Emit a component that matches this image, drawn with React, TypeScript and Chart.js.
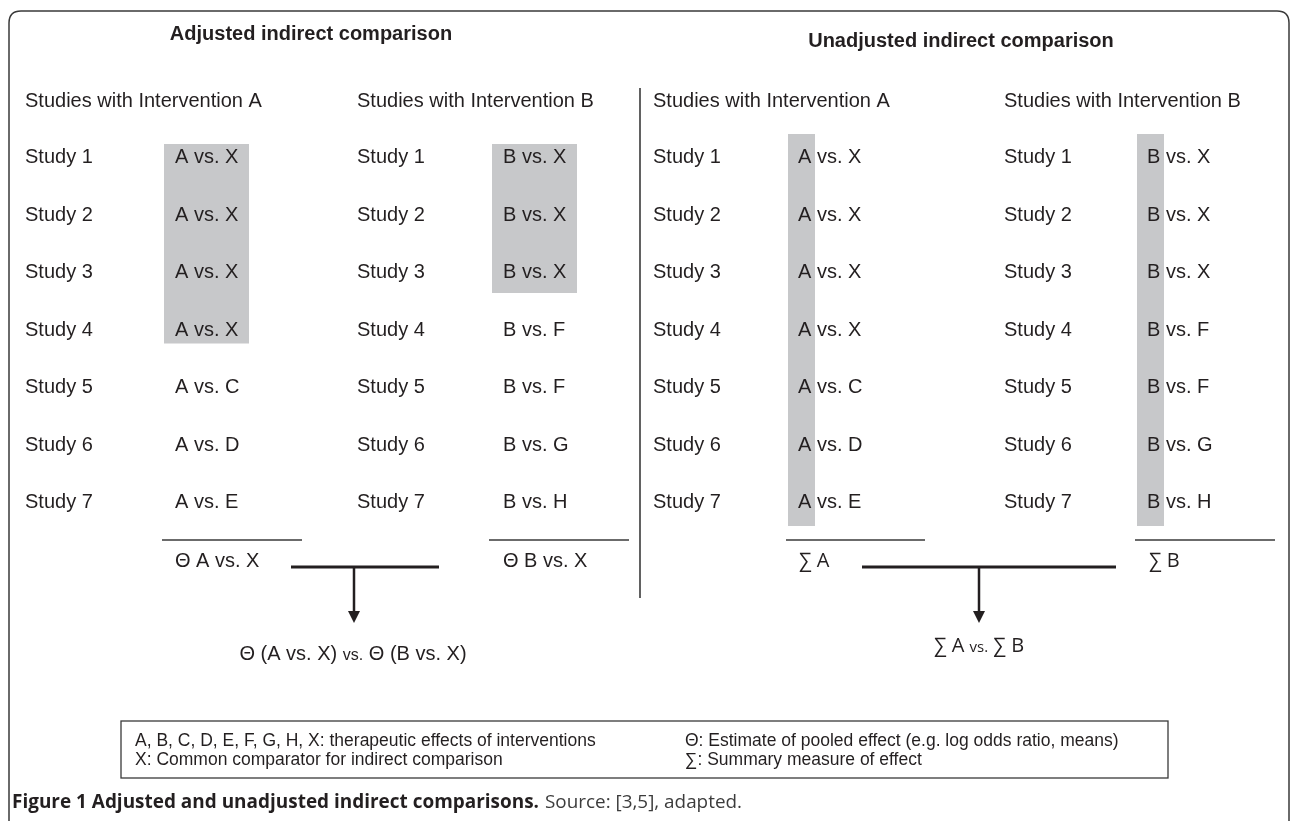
import React, { useEffect, useRef } from "react";
import { Chart, registerables } from "chart.js";

Chart.register(...registerables);

// ---------- content ----------
const panelTitles = ["Adjusted indirect comparison", "Unadjusted indirect comparison"];
const columnHeaders = ["Studies with Intervention A", "Studies with Intervention B"];
const studies = ["Study 1", "Study 2", "Study 3", "Study 4", "Study 5", "Study 6", "Study 7"];
const comparisonsA = ["A vs. X", "A vs. X", "A vs. X", "A vs. X", "A vs. C", "A vs. D", "A vs. E"];
const comparisonsB = ["B vs. X", "B vs. X", "B vs. X", "B vs. F", "B vs. F", "B vs. G", "B vs. H"];
const commonComparator = "X";
const pooledLabels = ["\u0398 A vs. X", "\u0398 B vs. X"];
const summaryLabels = ["\u2211 A", "\u2211 B"];
const adjustedResult = ["\u0398 (A vs. X)", "vs.", "\u0398 (B vs. X)"];
const unadjustedResult = ["\u2211 A", "vs.", "\u2211 B"];
const legendLeft = [
  "A, B, C, D, E, F, G, H, X: therapeutic effects of interventions",
  "X: Common comparator for indirect comparison",
];
const legendRight = [
  "\u0398: Estimate of pooled effect (e.g. log odds ratio, means)",
  "\u2211: Summary measure of effect",
];
const captionBold = "Figure 1 Adjusted and unadjusted indirect comparisons.";
const captionSource = "Source: [3,5], adapted.";

// ---------- layout (scale units) ----------
const W = 1292;
const H = 821;
const ROW0 = 163;
const ROW_STEP = 57.5;
const TEXT = "#231f20";
const LINE = "#3a3a3a";
const SHADE = "#c7c8ca";
const SANS = '"Liberation Sans", Arial, Helvetica, sans-serif';
const MYRIAD = '"Open Sans", "Noto Sans", "DejaVu Sans", sans-serif';

const diagramPlugin = {
  id: "diagram",
  afterDraw(chart: any) {
    const ctx: CanvasRenderingContext2D = chart.ctx;
    const sx = chart.scales.x;
    const sy = chart.scales.y;
    const X = (v: number) => sx.getPixelForValue(v);
    const Y = (v: number) => sy.getPixelForValue(v);
    const rowY = (i: number) => ROW0 + ROW_STEP * i;

    const text = (
      s: string,
      x: number,
      y: number,
      font: string,
      align: CanvasTextAlign = "left",
      color = TEXT,
      maxWidth?: number
    ) => {
      ctx.font = font;
      ctx.fillStyle = color;
      ctx.textAlign = align;
      ctx.textBaseline = "alphabetic";
      if (maxWidth) ctx.fillText(s, X(x), Y(y), maxWidth);
      else ctx.fillText(s, X(x), Y(y));
    };
    const line = (x1: number, y1: number, x2: number, y2: number, w: number, color = LINE) => {
      ctx.beginPath();
      ctx.strokeStyle = color;
      ctx.lineWidth = w;
      ctx.moveTo(X(x1), Y(y1));
      ctx.lineTo(X(x2), Y(y2));
      ctx.stroke();
    };
    const rect = (x1: number, y1: number, x2: number, y2: number, color: string) => {
      ctx.fillStyle = color;
      ctx.fillRect(X(x1), Y(y1), X(x2) - X(x1), Y(y2) - Y(y1));
    };

    ctx.save();
    // background
    rect(0, 0, W, H, "#ffffff");

    // outer rounded frame
    {
      const l = X(9), t = Y(11), r = X(1289), b = Y(845), rad = 12;
      ctx.beginPath();
      ctx.moveTo(l + rad, t);
      ctx.lineTo(r - rad, t);
      ctx.quadraticCurveTo(r, t, r, t + rad);
      ctx.lineTo(r, b - rad);
      ctx.quadraticCurveTo(r, b, r - rad, b);
      ctx.lineTo(l + rad, b);
      ctx.quadraticCurveTo(l, b, l, b - rad);
      ctx.lineTo(l, t + rad);
      ctx.quadraticCurveTo(l, t, l + rad, t);
      ctx.strokeStyle = LINE;
      ctx.lineWidth = 1.5;
      ctx.stroke();
    }

    // titles
    text(panelTitles[0], 311, 40, `bold 20px ${SANS}`, "center");
    text(panelTitles[1], 961, 47, `bold 20px ${SANS}`, "center");

    // divider
    line(640, 88, 640, 598, 1.6);

    // ----- adjusted panel -----
    const adjCols = [
      { studyX: 25, compX: 175, shade: [164, 249], padBottom: 8, comps: comparisonsA },
      { studyX: 357, compX: 503, shade: [492, 577], padBottom: 15, comps: comparisonsB },
    ];
    adjCols.forEach((c, ci) => {
      const hl = c.comps
        .map((s, i) => (s.trim().endsWith(commonComparator) ? i : -1))
        .filter((i) => i >= 0);
      if (hl.length) {
        rect(c.shade[0], rowY(hl[0]) - 19, c.shade[1], rowY(hl[hl.length - 1]) + c.padBottom, SHADE);
      }
      text(columnHeaders[ci], c.studyX, 107, `20px ${SANS}`);
      studies.forEach((s, i) => {
        text(s, c.studyX, rowY(i), `20px ${SANS}`);
        text(c.comps[i], c.compX, rowY(i), `20px ${SANS}`);
      });
    });
    line(162, 540, 302, 540, 1.3);
    line(489, 540, 629, 540, 1.3);
    text(pooledLabels[0], 175, 567, `20px ${SANS}`);
    text(pooledLabels[1], 503, 567, `20px ${SANS}`);
    line(291, 567, 439, 567, 3, "#231f20");
    line(354, 567, 354, 613, 2.5, "#231f20");
    {
      ctx.beginPath();
      ctx.fillStyle = "#231f20";
      ctx.moveTo(X(348), Y(611));
      ctx.lineTo(X(360), Y(611));
      ctx.lineTo(X(354), Y(623));
      ctx.closePath();
      ctx.fill();
    }
    // composite result
    const composite = (parts: string[], cx: number, y: number, big: string, small: string) => {
      const fonts = [big, small, big];
      const sep = " ";
      ctx.font = big;
      const sp = ctx.measureText(sep).width;
      const widths = parts.map((p, i) => {
        ctx.font = fonts[i];
        return ctx.measureText(p).width;
      });
      const total = widths.reduce((a, b) => a + b, 0) + sp * 2;
      let x0 = X(cx) - total / 2;
      parts.forEach((p, i) => {
        ctx.font = fonts[i];
        ctx.fillStyle = TEXT;
        ctx.textAlign = "left";
        ctx.textBaseline = "alphabetic";
        ctx.fillText(p, x0, Y(y));
        x0 += widths[i] + sp;
      });
    };
    composite(adjustedResult, 353, 660, `20px ${SANS}`, `16px ${SANS}`);

    // ----- unadjusted panel -----
    const unCols = [
      { studyX: 653, compX: 798, shade: [788, 815], comps: comparisonsA },
      { studyX: 1004, compX: 1147, shade: [1137, 1164], comps: comparisonsB },
    ];
    unCols.forEach((c, ci) => {
      rect(c.shade[0], rowY(0) - 29, c.shade[1], rowY(studies.length - 1) + 18, SHADE);
      text(columnHeaders[ci], c.studyX, 107, `20px ${SANS}`);
      studies.forEach((s, i) => {
        text(s, c.studyX, rowY(i), `20px ${SANS}`);
        text(c.comps[i], c.compX, rowY(i), `20px ${SANS}`);
      });
    });
    line(786, 540, 925, 540, 1.3);
    line(1135, 540, 1275, 540, 1.3);
    text(summaryLabels[0], 799, 567, `20px ${MYRIAD}`, "left", TEXT, 35);
    text(summaryLabels[1], 1149, 567, `20px ${MYRIAD}`, "left", TEXT, 35);
    line(862, 567, 1116, 567, 3, "#231f20");
    line(979, 567, 979, 613, 2.5, "#231f20");
    {
      ctx.beginPath();
      ctx.fillStyle = "#231f20";
      ctx.moveTo(X(973), Y(611));
      ctx.lineTo(X(985), Y(611));
      ctx.lineTo(X(979), Y(623));
      ctx.closePath();
      ctx.fill();
    }
    composite(unadjustedResult, 979, 652, `20px ${MYRIAD}`, `15px ${MYRIAD}`);

    // ----- legend box -----
    ctx.strokeStyle = LINE;
    ctx.lineWidth = 1.3;
    ctx.strokeRect(X(121), Y(721), X(1168) - X(121), Y(778) - Y(721));
    legendLeft.forEach((s, i) => text(s, 135, 746 + 19 * i, `17.5px ${SANS}`));
    legendRight.forEach((s, i) => text(s, 685, 746 + 19 * i, `17.5px ${SANS}`));

    // ----- caption -----
    ctx.font = `bold 19px ${MYRIAD}`;
    text(captionBold, 12, 808, `bold 19px ${MYRIAD}`, "left", TEXT, 527);
    text(captionSource, 545, 808, `19px ${MYRIAD}`, "left", "#3c3c3c", 197);

    ctx.restore();
  },
};

export default function App() {
  const canvasRef = useRef<HTMLCanvasElement | null>(null);

  useEffect(() => {
    document.body.style.margin = "0";
    const canvas = canvasRef.current;
    if (!canvas) return;
    const chart = new Chart(canvas, {
      type: "scatter",
      data: { datasets: [] },
      options: {
        animation: false,
        responsive: false,
        devicePixelRatio: 1,
        layout: { padding: 0 },
        plugins: { legend: { display: false }, tooltip: { enabled: false } },
        scales: {
          x: { type: "linear", display: false, min: 0, max: W },
          y: { type: "linear", display: false, min: 0, max: H, reverse: true },
        },
      },
      plugins: [diagramPlugin],
    });
    return () => chart.destroy();
  }, []);

  return (
    <div style={{ position: "absolute", left: 0, top: 0, width: W, height: H, background: "#fff" }}>
      <canvas ref={canvasRef} width={W} height={H} style={{ display: "block", width: W, height: H }} />
    </div>
  );
}
